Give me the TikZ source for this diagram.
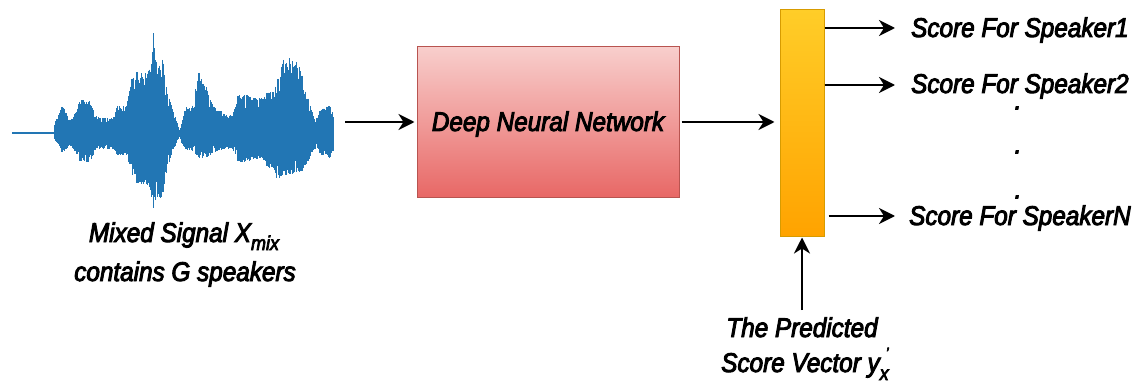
\documentclass[tikz,border=0pt]{standalone}
\usepackage{fontspec}
\setmainfont{Liberation Sans}[FakeStretch=0.9, FakeBold=3.5]
\usetikzlibrary{arrows.meta}

\definecolor{wave}{RGB}{34,118,180}
\definecolor{dnnTop}{RGB}{248,206,204}
\definecolor{dnnBot}{RGB}{232,104,102}
\definecolor{dnnLine}{RGB}{184,84,80}
\definecolor{barTop}{RGB}{255,205,40}
\definecolor{barBot}{RGB}{255,163,0}
\definecolor{barLine}{RGB}{215,155,0}

\begin{document}
\begin{tikzpicture}[x=1pt, y=-1pt,
  lbl/.style={font=\fontsize{27}{32}\selectfont\itshape, inner sep=0pt, text=black},
  conn/.style={line width=2.6pt, -{Stealth[length=16pt, width=16pt, inset=5pt]}},
  wavestroke/.style={draw=wave, line width=1.3pt},
  dnnbox/.style={draw=dnnLine, line width=1pt, top color=dnnTop, bottom color=dnnBot,
    minimum width=262pt, minimum height=150pt, inner sep=0pt},
  scorebar/.style={draw=barLine, line width=1pt, top color=barTop, bottom color=barBot,
    minimum width=44pt, minimum height=226pt, inner sep=0pt}]

\useasboundingbox (0,0) rectangle (1135,385);

% ---- mixed speech waveform ----
\pgfmathsetseed{11}
\draw[wave, line width=2.8pt] (12,133) -- (56,133);
\foreach \wx/\wt/\wb [remember=\wx as \wpx (initially 55),
                      remember=\wt as \wpt (initially 133),
                      remember=\wb as \wpb (initially 133)] in
  {55/123/140, 57/118/143, 62/106/152, 66/110/150, 70/121/145, 75/113/151,
   80/100/161, 90/100/163, 95/115/152, 100/118/149, 113/118/149, 117/106/155,
   127/106/155, 132/76/175, 137/72/184, 147/72/184, 151/68/190, 152.5/28/205,
   153.5/28/208, 155/60/200, 160/58/200, 163/60/195, 167/92/168, 173/108/152,
   178/126/140, 180/130/137, 182/124/143, 185/107/149, 192/108/151, 197/80/156,
   199/72/158, 203/84/158, 207/88/158, 212/103/153, 217/108/151, 227/115/149,
   233/115/149, 238/95/162, 247/95/162, 253/98/160, 263/98/160, 267/92/168,
   273/92/168, 278/76/184, 282/60/176, 290/57/174, 297/61/173, 302/72/171,
   308/98/162, 315/121/149, 320/111/155, 326/106/157, 330/104/159, 333/115/152}
{
  \pgfmathtruncatemacro\wn{max(1,round((\wx-\wpx)/0.8))}
  \foreach \i in {1,...,\wn} {
    \pgfmathsetmacro\wf{\i/\wn}
    \pgfmathsetmacro\wX{\wpx+(\wx-\wpx)*\wf}
    \pgfmathsetmacro\wT{133-(133-(\wpt+(\wt-\wpt)*\wf))*(1-0.4*rnd*rnd)}
    \pgfmathsetmacro\wB{133+((\wpb+(\wb-\wpb)*\wf)-133)*(1-0.4*rnd*rnd)}
    \draw[wavestroke] (\wX,\wT) -- (\wX,\wB);
  }
}

\node[lbl, anchor=base] (mix1) at (184,242)
  {Mixed Signal X\raisebox{-8pt}{\fontsize{20}{20}\selectfont mix}};
\node[lbl, anchor=base] (mix2) at (185,281) {contains G speakers};

% ---- network and score vector ----
\node[dnnbox] (dnn) at (548,122) {};
\node[lbl] (dnnlbl) at (548,124) {Deep Neural Network};
\node[scorebar] (bar) at (802,123) {};

\coordinate (wEnd) at (345,122);
\draw[conn, shorten >=2pt] (wEnd) -- (dnn.west);
\draw[conn, shorten <=2pt, shorten >=5pt] (dnn.east) -- (bar.west |- dnn.east);

% ---- per-speaker scores ----
\node[lbl, anchor=base west] (s1) at (911,37) {Score For Speaker1};
\node[lbl, anchor=base west] (s2) at (911,93) {Score For Speaker2};
\node[lbl, anchor=base west] (sn) at (909,225) {Score For SpeakerN};
\node[lbl] (d1) at (1018,108) {.};
\node[lbl] (d2) at (1018,152) {.};
\node[lbl] (d3) at (1018,197) {.};

\coordinate (e1) at (895,28);
\coordinate (e2) at (895,85);
\coordinate (eN) at (895,216);
\draw[conn] (bar.east |- e1) -- (e1);
\draw[conn] (bar.east |- e2) -- (e2);
\draw[conn, shorten <=4pt] (bar.east |- eN) -- (eN);

% ---- predicted score vector ----
\coordinate (vIn) at (802,310);
\draw[conn, shorten >=1pt] (vIn) -- (bar.south);
\node[lbl, anchor=base] (pr1) at (802,337) {The Predicted};
\node[lbl, anchor=base] (pr2) at (805,372)
  {Score Vector y\raisebox{-8pt}{\fontsize{20}{20}\selectfont x}\kern-3pt\raisebox{14pt}{\fontsize{15}{15}\selectfont '}};
\end{tikzpicture}
\end{document}
